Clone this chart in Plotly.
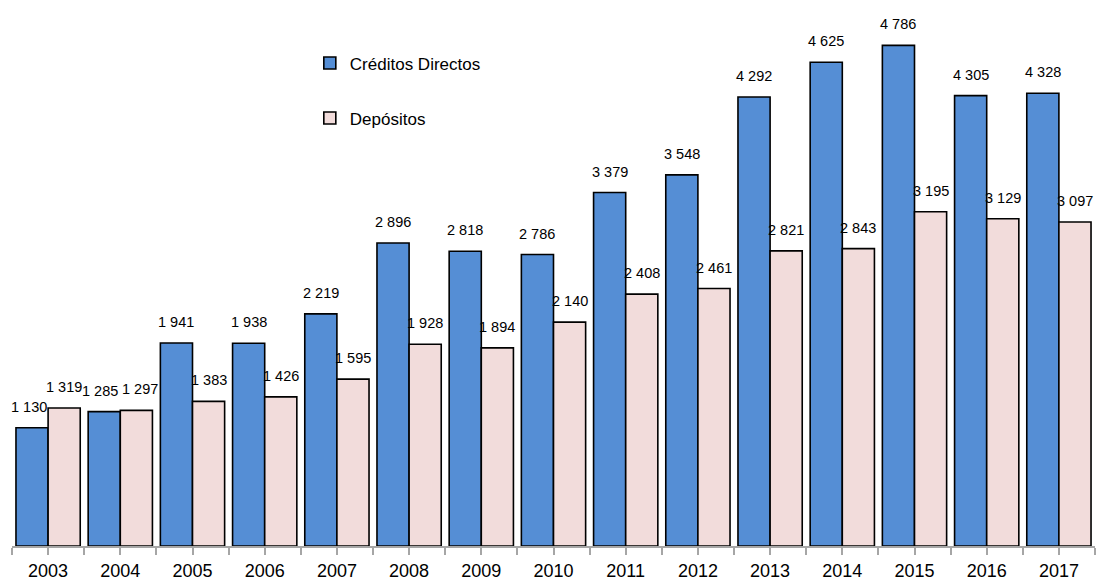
import plotly.graph_objects as go

years = ["2003", "2004", "2005", "2006", "2007", "2008", "2009", "2010",
         "2011", "2012", "2013", "2014", "2015", "2016", "2017"]
creditos = [1130, 1285, 1941, 1938, 2219, 2896, 2818, 2786,
            3379, 3548, 4292, 4625, 4786, 4305, 4328]
depositos = [1319, 1297, 1383, 1426, 1595, 1928, 1894, 2140,
             2408, 2461, 2821, 2843, 3195, 3129, 3097]

series = [
    ("Créditos Directos", creditos, "#558ED5"),
    ("Depósitos", depositos, "#F2DCDB"),
]

# small horizontal nudges (px) for labels that would otherwise collide
label_nudge = {("Créditos Directos", "2003"): -3,
               ("Créditos Directos", "2004"): -4,
               ("Depósitos", "2004"): 4}

FONT = "Liberation Sans Narrow, Arial Narrow, Liberation Sans, Arial, sans-serif"
BARGAP = 0.11
xpos = list(range(len(years)))
bar_w = (1 - BARGAP) / len(series)

fig = go.Figure()
annotations = []
for k, (name, vals, color) in enumerate(series):
    fig.add_trace(go.Bar(
        x=xpos, y=vals, name=name, legendgroup=name,
        marker=dict(color=color, line=dict(color="black", width=1.6)),
    ))
    off = (k - (len(series) - 1) / 2) * bar_w
    for xi, yr, v in zip(xpos, years, vals):
        annotations.append(dict(
            x=xi + off, y=v, xref="x", yref="y",
            text=f"{v:,}".replace(",", " "),
            showarrow=False, yanchor="bottom", yshift=11,
            xshift=label_nudge.get((name, yr), 0),
            font=dict(family=FONT, size=14.5, color="black"),
        ))

fig.update_layout(
    width=1104, height=581,
    margin=dict(l=12, r=9, t=10, b=35),
    paper_bgcolor="white", plot_bgcolor="white",
    barmode="group", bargap=BARGAP, bargroupgap=0,
    showlegend=True,
    legend=dict(
        x=0.275, y=0.934, xanchor="left", yanchor="top",
        font=dict(family=FONT, size=17, color="black"),
        tracegroupgap=30, itemwidth=30, bgcolor="rgba(0,0,0,0)",
    ),
    annotations=annotations,
    xaxis=dict(
        range=[-0.5, len(years) - 0.5],
        tickmode="array", tickvals=xpos, ticktext=years,
        ticks="outside", ticklen=7, tickwidth=1.5, tickcolor="#A6A6A6",
        minor=dict(tick0=0.5, dtick=1, ticks="outside", ticklen=7,
                   tickwidth=1.5, tickcolor="#A6A6A6"),
        showline=True, linecolor="#A6A6A6", linewidth=2,
        showgrid=False, zeroline=False, automargin=False,
        tickfont=dict(family=FONT, size=18, color="black"),
    ),
    yaxis=dict(range=[0, 5124], visible=False, showgrid=False, zeroline=False),
)

fig.write_html("out.html")
